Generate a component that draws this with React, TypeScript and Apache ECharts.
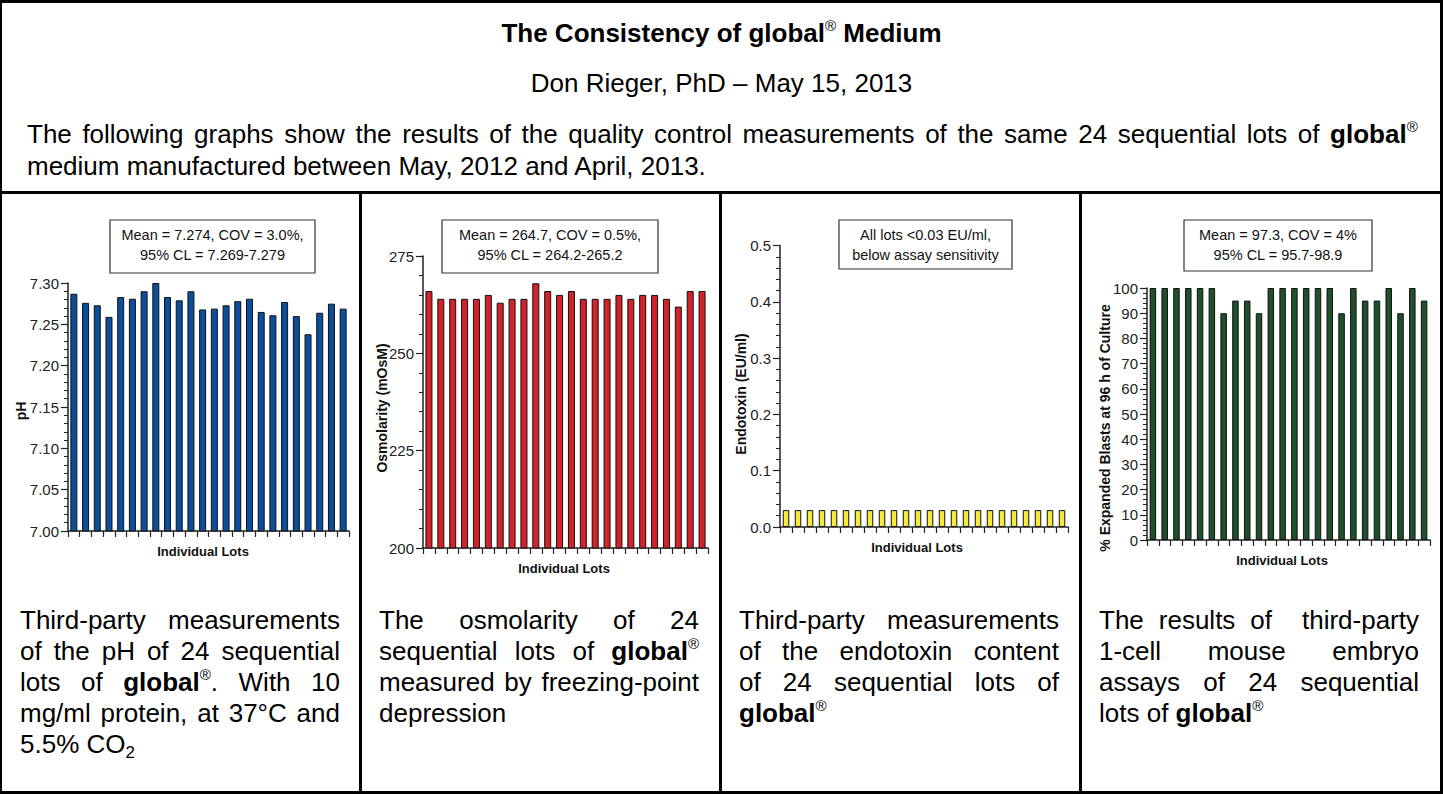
import React, { useEffect, useRef } from "react";
import * as echarts from "echarts";

const FONT = '"Liberation Sans", Arial, Helvetica, sans-serif';

// ---------- data ----------
const lots = ["1", "2", "3", "4", "5", "6", "7", "8", "9", "10", "11", "12", "13", "14", "15", "16", "17", "18", "19", "20", "21", "22", "23", "24"];

const phValues = [7.287, 7.276, 7.273, 7.259, 7.283, 7.281, 7.29, 7.3, 7.283, 7.279, 7.29, 7.268, 7.269, 7.273, 7.278, 7.281, 7.265, 7.261, 7.277, 7.26, 7.238, 7.264, 7.275, 7.269];
const osmolarityValues = [266, 264, 264, 264, 264, 265, 263, 264, 264, 268, 266, 265, 266, 264, 264, 264, 265, 264, 265, 265, 264, 262, 266, 266];
const endotoxinValues = [0.03, 0.03, 0.03, 0.03, 0.03, 0.03, 0.03, 0.03, 0.03, 0.03, 0.03, 0.03, 0.03, 0.03, 0.03, 0.03, 0.03, 0.03, 0.03, 0.03, 0.03, 0.03, 0.03, 0.03];
const blastValues = [100, 100, 100, 100, 100, 100, 90, 95, 95, 90, 100, 100, 100, 100, 100, 100, 90, 100, 95, 95, 100, 90, 100, 95];

const phTicks = { min: 7.0, max: 7.3, interval: 0.05, decimals: 2 };
const osmTicks = { min: 200, max: 275, interval: 25, decimals: 0 };
const endoTicks = { min: 0, max: 0.5, interval: 0.1, decimals: 1 };
const blastTicks = { min: 0, max: 100, interval: 10, decimals: 0 };

const phAnnotation = ["Mean = 7.274, COV = 3.0%,", "95% CL = 7.269-7.279"];
const osmAnnotation = ["Mean = 264.7, COV = 0.5%,", "95% CL = 264.2-265.2"];
const endoAnnotation = ["All lots <0.03 EU/ml,", "below assay sensitivity"];
const blastAnnotation = ["Mean = 97.3, COV = 4%", "95% CL = 95.7-98.9"];

const yTitles = ["pH", "Osmolarity (mOsM)", "Endotoxin (EU/ml)", "% Expanded Blasts at 96 h of Culture"];
const xTitle = "Individual Lots";

// ---------- layout (pixels) ----------
const panels = [
  { values: phValues, ticks: phTicks, color: "#0b4f9c", grid: { left: 68, top: 283, width: 281, height: 248 }, barWidth: 7, box: { x: 110, y: 220, w: 205, h: 53 }, note: phAnnotation, yTitle: { x: 20.5, y: 411 }, xTitle: { x: 203, y: 551 } },
  { values: osmolarityValues, ticks: osmTicks, color: "#d3222a", grid: { left: 423, top: 256, width: 285, height: 292 }, barWidth: 7, box: { x: 442, y: 220, w: 216, h: 53 }, note: osmAnnotation, yTitle: { x: 382, y: 408 }, xTitle: { x: 564, y: 568 } },
  { values: endotoxinValues, ticks: endoTicks, color: "#f4ea3e", grid: { left: 780, top: 245.5, width: 288, height: 281.5 }, barWidth: 6.5, box: { x: 839, y: 220, w: 173, h: 49 }, note: endoAnnotation, yTitle: { x: 741, y: 394 }, xTitle: { x: 917, y: 547 } },
  { values: blastValues, ticks: blastTicks, color: "#1f4f2b", grid: { left: 1147, top: 288, width: 283, height: 252 }, barWidth: 6.5, box: { x: 1184, y: 220, w: 188, h: 51 }, note: blastAnnotation, yTitle: { x: 1105, y: 428 }, xTitle: { x: 1282, y: 560 } },
];

function buildOption() {
  const grid: any[] = [];
  const xAxis: any[] = [];
  const yAxis: any[] = [];
  const series: any[] = [];
  const graphic: any[] = [];
  panels.forEach((p, i) => {
    grid.push({ ...p.grid, containLabel: false });
    xAxis.push({
      type: "category",
      gridIndex: i,
      data: lots,
      boundaryGap: true,
      axisLine: { lineStyle: { color: "#222", width: 1.5 } },
      axisTick: { show: true, interval: 0, length: 6, alignWithLabel: false, lineStyle: { color: "#222", width: 1.2 } },
      axisLabel: { show: false },
      splitLine: { show: false },
    });
    yAxis.push({
      type: "value",
      gridIndex: i,
      min: p.ticks.min,
      max: p.ticks.max,
      interval: p.ticks.interval,
      axisLine: { show: true, lineStyle: { color: "#222", width: 1.5 } },
      axisTick: { show: true, length: 7, lineStyle: { color: "#222", width: 1.2 } },
      minorTick: { show: true, splitNumber: 5, length: 4, lineStyle: { color: "#222", width: 1 } },
      axisLabel: {
        fontSize: 15,
        color: "#222",
        margin: 9,
        fontFamily: FONT,
        formatter: (v: number) => v.toFixed(p.ticks.decimals),
      },
      splitLine: { show: false },
      minorSplitLine: { show: false },
    });
    series.push({
      type: "bar",
      xAxisIndex: i,
      yAxisIndex: i,
      data: p.values,
      barWidth: p.barWidth,
      itemStyle: { color: p.color, borderColor: "#111", borderWidth: 1 },
      silent: true,
    });
    graphic.push({
      type: "rect",
      shape: { x: p.box.x, y: p.box.y, width: p.box.w, height: p.box.h },
      style: { fill: "#fff", stroke: "#333", lineWidth: 1.2 },
    });
    graphic.push({
      type: "text",
      x: p.box.x + p.box.w / 2,
      y: p.box.y + 15,
      style: { text: p.note[0], font: `14.5px ${FONT}`, fill: "#111", textAlign: "center", textVerticalAlign: "middle" },
    });
    graphic.push({
      type: "text",
      x: p.box.x + p.box.w / 2,
      y: p.box.y + 35,
      style: { text: p.note[1], font: `14.5px ${FONT}`, fill: "#111", textAlign: "center", textVerticalAlign: "middle" },
    });
    graphic.push({
      type: "text",
      x: p.yTitle.x,
      y: p.yTitle.y,
      rotation: Math.PI / 2,
      style: { text: yTitles[i], font: `bold 14px ${FONT}`, fill: "#111", textAlign: "center", textVerticalAlign: "middle" },
    });
    graphic.push({
      type: "text",
      x: p.xTitle.x,
      y: p.xTitle.y,
      style: { text: xTitle, font: `bold 13px ${FONT}`, fill: "#111", textAlign: "center", textVerticalAlign: "middle" },
    });
  });
  return {
    animation: false,
    textStyle: { fontFamily: FONT },
    grid,
    xAxis,
    yAxis,
    series,
    graphic,
  };
}

const Sup = () => (
  <span style={{ fontSize: "0.58em", position: "relative", top: "-0.72em", fontWeight: "normal" }}>®</span>
);
const Global = () => (
  <>
    <b>global</b>
    <Sup />
  </>
);

const lineStyle = (lh: number): React.CSSProperties => ({ height: lh, lineHeight: `${lh}px`, whiteSpace: "nowrap" });

function JLine({ words, lh }: { words: React.ReactNode[]; lh: number }) {
  return (
    <div style={{ ...lineStyle(lh), display: "flex", justifyContent: "space-between" }}>
      {words.map((w, i) => (
        <span key={i}>{w}</span>
      ))}
    </div>
  );
}
function PLine({ children, lh }: { children: React.ReactNode; lh: number }) {
  return <div style={lineStyle(lh)}>{children}</div>;
}

const DESC_LH = 31;
const DESC_TOP = 604.5;
const DESC_W = 320;

export default function App() {
  const ref = useRef<HTMLDivElement>(null);
  useEffect(() => {
    const chart = echarts.init(ref.current as HTMLDivElement, null, { renderer: "svg" });
    chart.setOption(buildOption() as any);
    return () => chart.dispose();
  }, []);

  const line = (style: React.CSSProperties) => (
    <div style={{ position: "absolute", background: "#000", ...style }} />
  );

  const descBox = (left: number, content: React.ReactNode) => (
    <div style={{ position: "absolute", left, top: DESC_TOP, width: DESC_W, fontSize: 26 }}>{content}</div>
  );

  return (
    <div
      style={{
        position: "absolute",
        left: 0,
        top: 0,
        width: 1443,
        height: 794,
        background: "#fff",
        overflow: "hidden",
        fontFamily: FONT,
        color: "#000",
      }}
    >
      <div ref={ref} style={{ position: "absolute", left: 0, top: 0, width: 1443, height: 794 }} />
      <div style={{ position: "absolute", left: 0, top: 0, width: 1443, height: 794, pointerEvents: "none" }}>
        {/* borders */}
        {line({ left: 0, top: 0, width: 1443, height: 3 })}
        {line({ left: 0, top: 791, width: 1443, height: 3 })}
        {line({ left: 0, top: 0, width: 2, height: 794 })}
        {line({ left: 1440, top: 0, width: 3, height: 794 })}
        {line({ left: 0, top: 191, width: 1443, height: 3 })}
        {line({ left: 359, top: 191, width: 3, height: 603 })}
        {line({ left: 719, top: 191, width: 3, height: 603 })}
        {line({ left: 1079, top: 191, width: 3, height: 603 })}

        {/* header */}
        <div style={{ position: "absolute", left: 0, top: 18, width: 1443, textAlign: "center", fontSize: 26, fontWeight: "bold", ...lineStyle(30) }}>
          The Consistency of global<Sup /> Medium
        </div>
        <div style={{ position: "absolute", left: 0, top: 68, width: 1443, textAlign: "center", fontSize: 26, ...lineStyle(30) }}>
          Don Rieger, PhD – May 15, 2013
        </div>
        <div style={{ position: "absolute", left: 27, top: 118, width: 1391, fontSize: 26 }}>
          <JLine
            lh={32}
            words={["The", "following", "graphs", "show", "the", "results", "of", "the", "quality", "control", "measurements", "of", "the", "same", "24", "sequential", "lots", "of", <Global />]}
          />
          <PLine lh={32}>medium manufactured between May, 2012 and April, 2013.</PLine>
        </div>

        {/* panel descriptions */}
        {descBox(
          20,
          <>
            <JLine lh={DESC_LH} words={["Third-party", "measurements"]} />
            <JLine lh={DESC_LH} words={["of", "the", "pH", "of", "24", "sequential"]} />
            <JLine lh={DESC_LH} words={["lots", "of", <><Global />.</>, "With", "10"]} />
            <JLine lh={DESC_LH} words={["mg/ml", "protein,", "at", "37°C", "and"]} />
            <PLine lh={DESC_LH}>
              5.5% CO<span style={{ fontSize: "0.65em", position: "relative", top: "0.35em" }}>2</span>
            </PLine>
          </>
        )}
        {descBox(
          379,
          <>
            <JLine lh={DESC_LH} words={["The", "osmolarity", "of", "24"]} />
            <JLine lh={DESC_LH} words={["sequential", "lots", "of", <Global />]} />
            <JLine lh={DESC_LH} words={["measured", "by", "freezing-point"]} />
            <PLine lh={DESC_LH}>depression</PLine>
          </>
        )}
        {descBox(
          739,
          <>
            <JLine lh={DESC_LH} words={["Third-party", "measurements"]} />
            <JLine lh={DESC_LH} words={["of", "the", "endotoxin", "content"]} />
            <JLine lh={DESC_LH} words={["of", "24", "sequential", "lots", "of"]} />
            <PLine lh={DESC_LH}>
              <Global />
            </PLine>
          </>
        )}
        {descBox(
          1099,
          <>
            <JLine lh={DESC_LH} words={["The", "results", "of", "", "third-party"]} />
            <JLine lh={DESC_LH} words={["1-cell", "mouse", "embryo"]} />
            <JLine lh={DESC_LH} words={["assays", "of", "24", "sequential"]} />
            <PLine lh={DESC_LH}>
              lots of <Global />
            </PLine>
          </>
        )}
      </div>
    </div>
  );
}
